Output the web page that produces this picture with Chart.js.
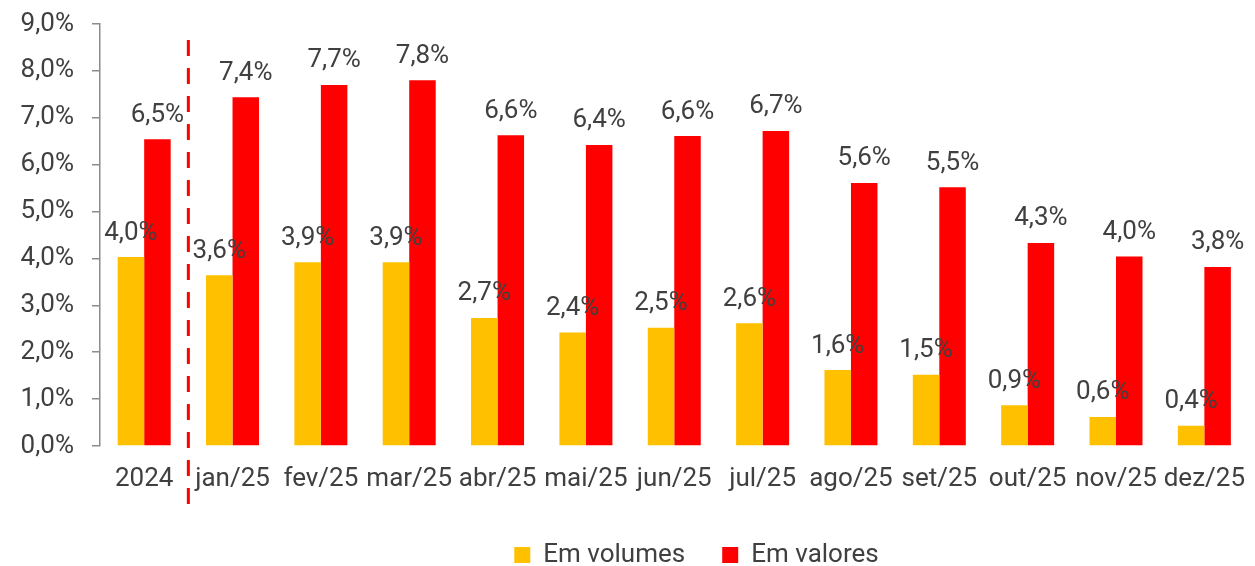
<!DOCTYPE html>
<html>
<head>
<meta charset="utf-8">
<script src="https://cdn.jsdelivr.net/npm/chart.js@4"></script>
<style>
  html, body { margin: 0; padding: 0; background: #ffffff; }
  #wrap { width: 1255px; height: 566px; }
</style>
</head>
<body>
<div id="wrap"><canvas id="chart"></canvas></div>
<script>
const categories = ["2024", "jan/25", "fev/25", "mar/25", "abr/25", "mai/25", "jun/25", "jul/25", "ago/25", "set/25", "out/25", "nov/25", "dez/25"];
const volumes = [4.03, 3.64, 3.92, 3.92, 2.73, 2.42, 2.52, 2.62, 1.62, 1.52, 0.87, 0.62, 0.43];
const valores = [6.54, 7.44, 7.70, 7.80, 6.63, 6.42, 6.61, 6.72, 5.61, 5.52, 4.33, 4.04, 3.82];
const yTicks = [0, 1, 2, 3, 4, 5, 6, 7, 8, 9];

const textColor = "#404040";
const fontFamily = "Roboto, 'Liberation Sans', sans-serif";
const fontSize = 26;

function pct(v) {
    return v.toFixed(1).replace(".", ",") + "%";
}

// labels above each bar
const barLabels = {
    id: "barLabels",
    afterDatasetsDraw(chart) {
        const ctx = chart.ctx;
        ctx.save();
        ctx.font = fontSize + "px " + fontFamily;
        ctx.fillStyle = textColor;
        ctx.textAlign = "center";
        ctx.textBaseline = "middle";
        chart.data.datasets.forEach((ds, i) => {
            chart.getDatasetMeta(i).data.forEach((bar, j) => {
                ctx.fillText(pct(ds.data[j]), bar.x, bar.y - 24);
            });
        });
        ctx.restore();
    }
};

// dashed separator between 2024 and the months
const separator = {
    id: "separator",
    afterDraw(chart) {
        const ctx = chart.ctx;
        const x = chart.scales.x.getPixelForValue(0.5);
        const area = chart.chartArea;
        ctx.save();
        ctx.strokeStyle = "#ff0000";
        ctx.lineWidth = 3;
        ctx.setLineDash([16, 12]);
        ctx.beginPath();
        ctx.moveTo(x, area.top + 16);
        ctx.lineTo(x, area.bottom + 58);
        ctx.stroke();
        ctx.restore();
    }
};

// legend sits a bit right of centre in the original
const legendShift = {
    id: "legendShift",
    afterLayout(chart) {
        chart.legend.left += 69;
        chart.legend.right += 69;
    }
};

new Chart(document.getElementById("chart").getContext("2d"), {
    type: "bar",
    data: {
        labels: categories,
        datasets: [
            {
                label: "Em volumes",
                data: volumes,
                backgroundColor: "#ffc000",
                categoryPercentage: 0.6,
                barPercentage: 1.0
            },
            {
                label: "Em valores",
                data: valores,
                backgroundColor: "#ff0000",
                categoryPercentage: 0.6,
                barPercentage: 1.0
            }
        ]
    },
    options: {
        responsive: true,
        maintainAspectRatio: false,
        animation: false,
        layout: { padding: { top: 24, right: 0, left: 0, bottom: -12 } },
        scales: {
            x: {
                grid: { display: false },
                border: { display: false },
                ticks: {
                    color: textColor,
                    font: { family: fontFamily, size: fontSize },
                    padding: 10,
                    maxRotation: 0,
                    autoSkip: false
                },
                afterFit(scale) { scale.height = 59; }
            },
            y: {
                min: 0,
                max: 9,
                afterBuildTicks(scale) { scale.ticks = yTicks.map(v => ({ value: v })); },
                grid: { drawOnChartArea: false, drawTicks: true, tickLength: 8, color: "#8c8c8c", lineWidth: 1.5 },
                border: { display: true, color: "#8c8c8c", width: 1.5 },
                ticks: {
                    color: textColor,
                    font: { family: fontFamily, size: fontSize },
                    padding: 18,
                    callback: v => pct(v)
                },
                afterFit(scale) {
                    scale.width = 100;
                    scale.paddingTop = 0;
                    scale.paddingBottom = 0;
                }
            }
        },
        plugins: {
            legend: {
                position: "bottom",
                labels: {
                    color: textColor,
                    font: { family: fontFamily, size: fontSize },
                    boxWidth: 16,
                    boxHeight: 16,
                    padding: 37
                }
            },
            tooltip: { enabled: false }
        }
    },
    plugins: [barLabels, separator, legendShift]
});
</script>
</body>
</html>
